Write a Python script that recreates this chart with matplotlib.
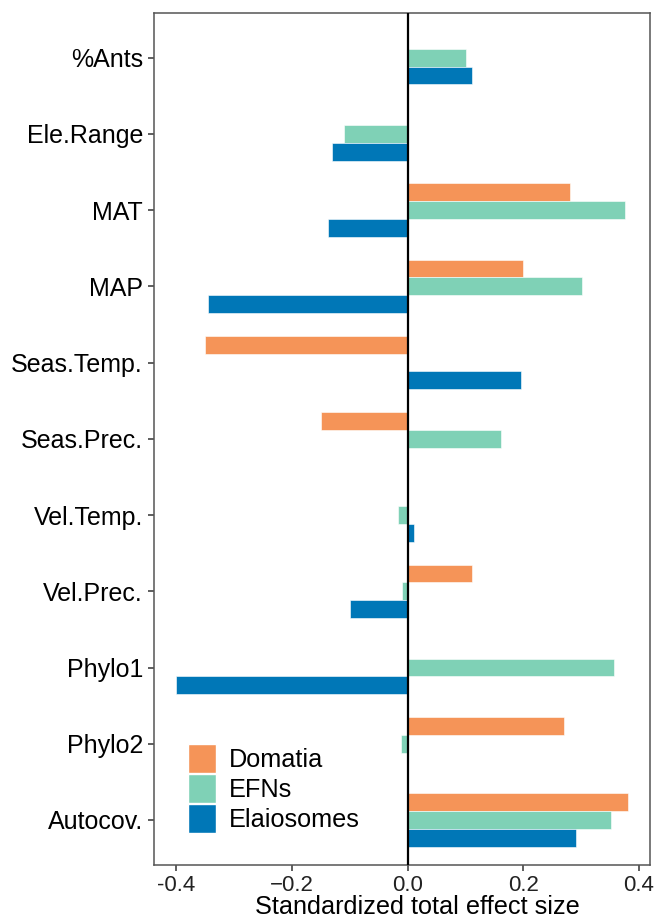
import numpy as np
import matplotlib
matplotlib.use("Agg")
import matplotlib.pyplot as plt
from matplotlib.patches import Patch

plt.rcParams['font.family'] = ['Liberation Sans', 'DejaVu Sans']

predictors = ["%Ants", "Ele.Range", "MAT", "MAP", "Seas.Temp.", "Seas.Prec.",
              "Vel.Temp.", "Vel.Prec.", "Phylo1", "Phylo2", "Autocov."]

nan = np.nan
domatia = [nan, nan, 0.281, 0.200, -0.350, -0.150, nan, 0.111, nan, 0.271, 0.381]
efns = [0.100, -0.110, 0.376, 0.302, nan, 0.161, -0.016, -0.009, 0.356, -0.012, 0.351]
elaiosomes = [0.111, -0.130, -0.137, -0.346, 0.196, nan, 0.011, -0.100, -0.400, nan, 0.291]

series_names = ["Domatia", "EFNs", "Elaiosomes"]
series_colors = ["#F59458", "#7FD1B6", "#0077B7"]
series_values = [domatia, efns, elaiosomes]

fig = plt.figure(figsize=(6.57, 9.19), dpi=100)
ax = fig.add_axes([0.2344, 0.0588, 0.7549, 0.9274])

y = np.arange(len(predictors))
bar_h = 0.233
offsets = [-bar_h, 0.0, bar_h]
for vals, col, off in zip(series_values, series_colors, offsets):
    v = np.array(vals, dtype=float)
    mask = ~np.isnan(v)
    ax.barh(y[mask] + off, v[mask], height=bar_h, color=col,
            edgecolor="white", linewidth=0.4, zorder=2)

ax.axvline(0, color="black", linewidth=1.6, zorder=3)

ax.set_ylim(len(predictors) - 1 + 0.59, -0.59)
ax.set_xlim(-0.4386, 0.4189)
ax.set_yticks(y)
ax.set_yticklabels(predictors, fontsize=18, color="black")
ax.set_xticks([-0.4, -0.2, 0.0, 0.2, 0.4])
ax.set_xticklabels(["-0.4", "\u22120.2", "0.0", "0.2", "0.4"], fontsize=16, color="#222222")
ax.tick_params(axis="both", length=4, width=1.1, color="#333333")
ax.tick_params(axis="y", pad=4)
ax.tick_params(axis="x", pad=3)
for s in ax.spines.values():
    s.set_color("#555555")
    s.set_linewidth(1.1)

ax.set_xlabel("Standardized total effect size", fontsize=18.2)
ax.xaxis.set_label_coords(0.532, -0.035, transform=None)
ax.xaxis.label.set_verticalalignment("top")

handles = [Patch(facecolor=c, edgecolor="white", label=n)
           for n, c in zip(series_names, series_colors)]
ax.legend(handles=handles, loc="lower left", bbox_to_anchor=(0.068, 0.0376),
          frameon=False, fontsize=18.2, handlelength=1.13, handleheight=1.4,
          handletextpad=0.5, labelspacing=0.03, borderaxespad=0.0, borderpad=0.0)

fig.savefig("out.png", dpi=100)
